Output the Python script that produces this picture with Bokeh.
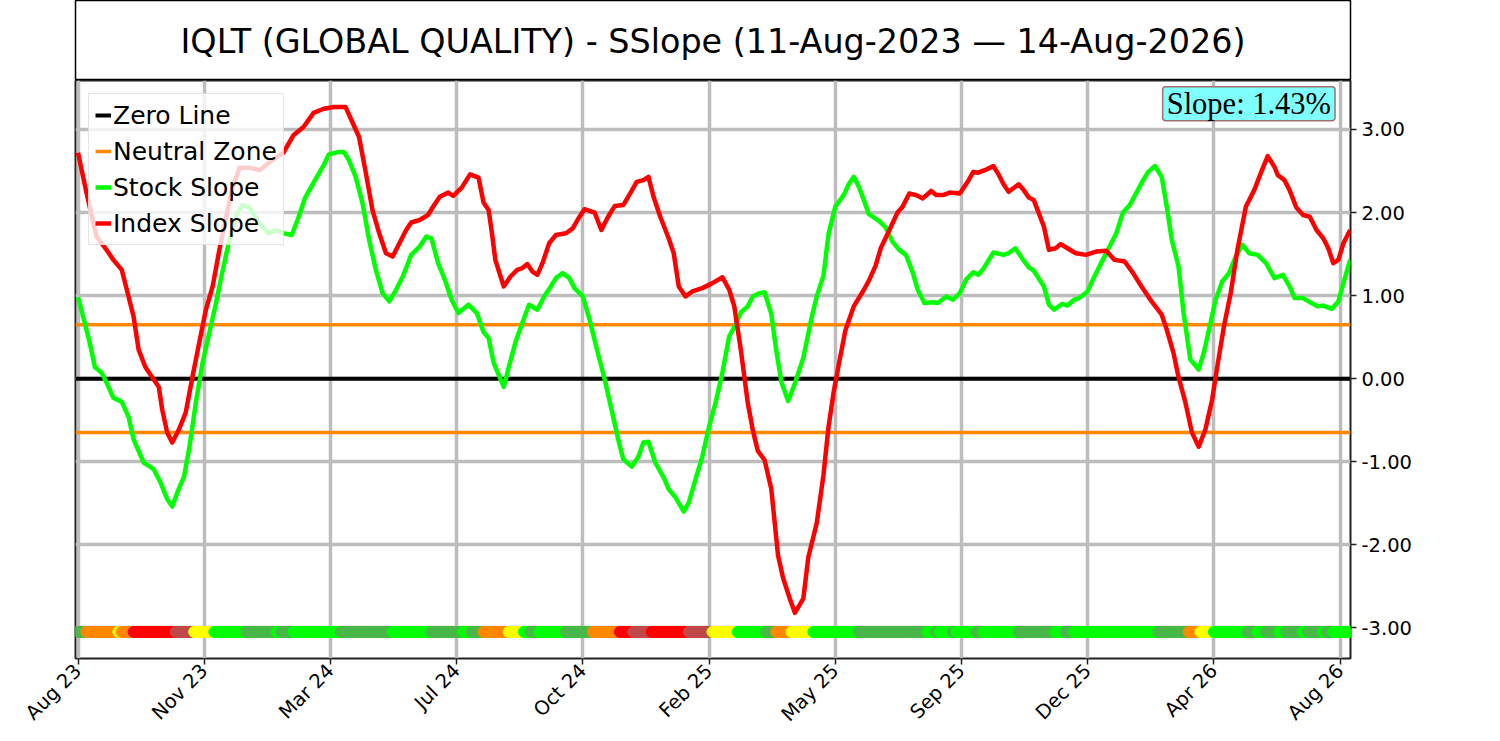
import math
from bokeh.plotting import figure
from bokeh.models import (Range1d, FixedTicker, NumeralTickFormatter, Legend,
                          LegendItem, Label, ColumnDataSource)
from bokeh.layouts import column
from bokeh.embed import file_html
from bokeh.resources import INLINE

# ---------------- data ----------------
TITLE = "IQLT (GLOBAL QUALITY) - SSlope (11-Aug-2023 \u2014 14-Aug-2026)"
N_DAYS = 757
XTICK_POS = [0, 75, 150, 225, 300, 375, 450, 525, 600, 675, 750]
XTICK_LABELS = ["Aug 23", "Nov 23", "Mar 24", "Jul 24", "Oct 24", "Feb 25",
                "May 25", "Sep 25", "Dec 25", "Apr 26", "Aug 26"]
YTICKS = [-3, -2, -1, 0, 1, 2, 3]
NEUTRAL = 0.65
BAND_LEVEL = -3.05

STOCK_X = [0, 4, 7, 10, 14, 17, 21, 26, 30, 33, 39, 45, 49, 53, 56, 59, 63, 66, 70, 74,
           78, 82, 86, 90, 94, 98, 102, 107, 113, 118, 122, 127, 131, 135, 140, 146, 149,
           155, 158, 161, 165, 169, 173, 177, 181, 185, 189, 193, 198, 203, 207, 210, 214,
           218, 222, 226, 232, 237, 241, 244, 247, 253, 256, 260, 264, 268, 273, 277, 281,
           284, 288, 292, 295, 300, 304, 308, 313, 317, 321, 324, 329, 333, 336, 339, 343,
           348, 351, 355, 360, 363, 367, 371, 375, 379, 383, 387, 390, 394, 398, 401, 405,
           408, 412, 415, 418, 422, 426, 431, 436, 439, 443, 446, 450, 455, 458, 461, 464,
           467, 470, 476, 480, 484, 488, 492, 496, 499, 503, 508, 511, 516, 520, 524, 528,
           532, 535, 538, 544, 550, 553, 557, 562, 565, 568, 574, 577, 580, 585, 588, 592,
           595, 600, 604, 609, 614, 617, 621, 625, 629, 633, 636, 640, 644, 647, 650, 654,
           657, 661, 666, 669, 673, 676, 680, 684, 688, 692, 696, 701, 706, 711, 716, 720,
           723, 728, 733, 737, 740, 745, 749, 752, 756]
STOCK_Y = [0.98, 0.67, 0.43, 0.14, 0.07, -0.05, -0.23, -0.28, -0.46, -0.73, -1.01, -1.09,
           -1.25, -1.45, -1.54, -1.37, -1.18, -0.85, -0.29, 0.19, 0.55, 0.91, 1.31, 1.67,
           1.97, 2.09, 2.06, 1.89, 1.75, 1.79, 1.75, 1.73, 1.94, 2.18, 2.36, 2.57, 2.70,
           2.73, 2.73, 2.63, 2.43, 2.12, 1.67, 1.31, 1.03, 0.93, 1.07, 1.23, 1.49, 1.59,
           1.71, 1.69, 1.39, 1.19, 0.95, 0.79, 0.89, 0.79, 0.56, 0.49, 0.19, -0.10, 0.14,
           0.44, 0.67, 0.89, 0.83, 0.99, 1.11, 1.21, 1.27, 1.21, 1.09, 0.99, 0.71, 0.38,
           -0.01, -0.37, -0.73, -0.97, -1.06, -0.94, -0.77, -0.76, -1.01, -1.19, -1.33,
           -1.43, -1.60, -1.49, -1.21, -0.94, -0.58, -0.28, 0.08, 0.51, 0.62, 0.80, 0.87,
           0.99, 1.03, 1.04, 0.78, 0.33, -0.04, -0.27, -0.06, 0.25, 0.74, 0.99, 1.24, 1.74,
           2.07, 2.21, 2.34, 2.43, 2.31, 2.15, 1.98, 1.90, 1.82, 1.65, 1.55, 1.49, 1.28,
           1.07, 0.91, 0.92, 0.91, 0.99, 0.95, 1.03, 1.20, 1.28, 1.25, 1.32, 1.52, 1.49,
           1.51, 1.57, 1.42, 1.34, 1.30, 1.11, 0.89, 0.83, 0.90, 0.88, 0.95, 0.97, 1.05,
           1.23, 1.43, 1.63, 1.75, 2.00, 2.09, 2.24, 2.39, 2.49, 2.56, 2.43, 2.07, 1.67,
           1.35, 0.79, 0.23, 0.11, 0.31, 0.67, 0.95, 1.17, 1.27, 1.47, 1.61, 1.51, 1.49,
           1.39, 1.21, 1.25, 1.11, 0.97, 0.97, 0.91, 0.87, 0.88, 0.84, 0.93, 1.15, 1.43]

INDEX_X = [0, 5, 11, 17, 21, 26, 29, 33, 36, 40, 45, 48, 50, 53, 56, 60, 64, 68, 72, 76,
           80, 84, 88, 92, 96, 102, 108, 114, 122, 128, 134, 140, 146, 152, 159, 163, 167,
           171, 175, 179, 183, 187, 191, 195, 198, 203, 208, 211, 215, 220, 223, 228, 233,
           238, 241, 244, 246, 248, 253, 257, 261, 264, 267, 270, 273, 276, 280, 284, 290,
           294, 298, 301, 307, 311, 315, 319, 324, 327, 332, 336, 339, 342, 346, 351, 354,
           357, 361, 365, 371, 377, 383, 387, 390, 394, 398, 401, 404, 408, 412, 416, 419,
           423, 426, 431, 434, 439, 443, 446, 449, 452, 456, 461, 467, 470, 474, 477, 482,
           487, 490, 494, 498, 502, 507, 510, 514, 518, 524, 529, 532, 535, 540, 544, 547,
           550, 553, 559, 562, 565, 568, 574, 577, 581, 584, 588, 593, 599, 605, 611, 616,
           622, 627, 632, 638, 644, 647, 651, 654, 658, 662, 666, 670, 674, 677, 681, 685,
           689, 694, 699, 703, 707, 711, 713, 717, 720, 724, 728, 732, 736, 740, 743, 746,
           749, 752, 756]
INDEX_Y = [2.72, 2.24, 1.71, 1.55, 1.43, 1.31, 1.07, 0.75, 0.35, 0.14, -0.01, -0.10, -0.37,
           -0.65, -0.77, -0.61, -0.41, 0.02, 0.43, 0.83, 1.11, 1.55, 1.95, 2.31, 2.54, 2.54,
           2.51, 2.61, 2.72, 2.93, 3.03, 3.20, 3.25, 3.27, 3.27, 3.09, 2.91, 2.48, 2.03,
           1.75, 1.51, 1.47, 1.63, 1.79, 1.88, 1.91, 1.97, 2.07, 2.19, 2.24, 2.20, 2.30,
           2.46, 2.42, 2.12, 2.03, 1.75, 1.43, 1.11, 1.23, 1.31, 1.33, 1.38, 1.29, 1.25,
           1.39, 1.63, 1.73, 1.75, 1.81, 1.95, 2.04, 2.00, 1.79, 1.95, 2.08, 2.09, 2.19,
           2.37, 2.39, 2.43, 2.19, 1.95, 1.69, 1.51, 1.11, 0.99, 1.05, 1.09, 1.15, 1.22,
           1.07, 0.87, 0.33, -0.29, -0.62, -0.87, -0.98, -1.33, -2.13, -2.40, -2.65, -2.82,
           -2.65, -2.15, -1.74, -1.16, -0.58, -0.17, 0.16, 0.58, 0.87, 1.07, 1.18, 1.36,
           1.57, 1.78, 2.00, 2.07, 2.23, 2.21, 2.17, 2.26, 2.21, 2.21, 2.24, 2.23, 2.38,
           2.49, 2.48, 2.52, 2.56, 2.46, 2.34, 2.25, 2.34, 2.27, 2.18, 2.15, 1.83, 1.55,
           1.57, 1.62, 1.57, 1.51, 1.49, 1.53, 1.54, 1.43, 1.41, 1.27, 1.11, 0.93, 0.77,
           0.59, 0.31, 0.02, -0.28, -0.65, -0.82, -0.61, -0.25, 0.14, 0.63, 1.03, 1.55,
           2.07, 2.27, 2.48, 2.68, 2.55, 2.45, 2.39, 2.27, 2.06, 1.97, 1.95, 1.79, 1.69,
           1.57, 1.39, 1.43, 1.63, 1.79]

# state band: (first day index of run, state)
BAND_RUNS = [(0, 'D'), (5, 'O'), (24, 'Y'), (26, 'O'), (33, 'R'), (58, 'B'), (69, 'Y'),
             (81, 'G'), (100, 'D'), (118, 'G'), (121, 'D'), (128, 'G'), (156, 'D'),
             (187, 'G'), (210, 'D'), (229, 'G'), (234, 'D'), (241, 'O'), (256, 'Y'),
             (265, 'G'), (269, 'D'), (274, 'G'), (290, 'D'), (306, 'O'), (322, 'R'),
             (330, 'B'), (341, 'R'), (363, 'B'), (377, 'Y'), (392, 'G'), (409, 'D'),
             (415, 'O'), (424, 'Y'), (437, 'G'), (464, 'D'), (505, 'G'), (510, 'D'),
             (512, 'G'), (520, 'D'), (522, 'G'), (534, 'D'), (538, 'G'), (559, 'D'),
             (581, 'G'), (587, 'D'), (592, 'G'), (642, 'D'), (660, 'O'), (667, 'Y'),
             (675, 'G'), (695, 'D'), (701, 'G'), (706, 'D'), (714, 'G'), (718, 'D'),
             (728, 'G'), (731, 'D'), (740, 'G'), (742, 'D'), (746, 'G')]
STATE_COLORS = {'G': '#00ff00', 'D': '#48b848', 'O': '#ff8800', 'Y': '#ffff00',
                'R': '#ff0000', 'B': '#c04848'}

SLOPE_TEXT = "Slope: %.2f%%" % STOCK_Y[-1]

# ---------------- layout constants ----------------
W = 1490
BL, BR = 75, 140
FONT = "DejaVu Sans"
X0, X1 = -1.5, 756.2
Y0, Y1 = -3.37, 3.59

# ---------------- title box ----------------
tf = figure(width=W, height=80, x_range=Range1d(0, 1), y_range=Range1d(0, 1),
            toolbar_location=None, output_backend="svg",
            min_border_left=BL, min_border_right=BR, min_border_top=0, min_border_bottom=0,
            x_axis_location=None, y_axis_location=None)
tf.grid.visible = False
tf.outline_line_color = "black"
tf.outline_line_width = 1.5
tf.add_layout(Label(x=0.5, y=0.49, text=TITLE, text_align="center", text_baseline="middle",
                    text_font=FONT, text_font_size="33.4px", text_color="black"))

# ---------------- main chart ----------------
p = figure(width=W, height=661, x_range=Range1d(X0, X1), y_range=Range1d(Y0, Y1),
           y_axis_location="right", toolbar_location=None, output_backend="svg",
           min_border_left=BL, min_border_right=BR, min_border_top=0, min_border_bottom=83)

xt = FixedTicker(ticks=XTICK_POS)
yt = FixedTicker(ticks=YTICKS)
p.xaxis.ticker = xt
p.xgrid.ticker = xt
p.yaxis.ticker = yt
p.ygrid.ticker = yt
p.xaxis.major_label_overrides = {pos: lab for pos, lab in zip(XTICK_POS, XTICK_LABELS)}
p.xaxis.major_label_orientation = math.pi / 4
p.yaxis.formatter = NumeralTickFormatter(format="0.00")
for ax in (p.xaxis, p.yaxis):
    ax.major_label_text_font = FONT
    ax.major_label_text_font_size = "19.5px"
    ax.major_label_text_color = "black"
    ax.major_tick_out = 6
    ax.major_tick_in = 0
    ax.major_tick_line_width = 1.5
    ax.major_tick_line_color = "#222222"
    ax.minor_tick_line_color = None
    ax.axis_line_color = None
p.xaxis.major_label_standoff = 3
p.outline_line_color = "#222222"
p.outline_line_width = 2
p.outline_line_alpha = 1
for g in (p.xgrid, p.ygrid):
    g.grid_line_color = "#bdbdbd"
    g.grid_line_width = 3.5

nan = float("nan")
r_zero = p.line([X0, X1], [0, 0], line_color="black", line_width=4)
r_neut = p.line([X0, X1, nan, X0, X1], [NEUTRAL, NEUTRAL, nan, -NEUTRAL, -NEUTRAL],
                line_color="#ff8800", line_width=3.5)
r_stock = p.line(STOCK_X, STOCK_Y, line_color="#00ff00", line_width=4.5, line_join="round")
r_index = p.line(INDEX_X, INDEX_Y, line_color="#ff0000", line_width=4.5, line_join="round")

# band of state dots
states = []
k = 0
for d in range(N_DAYS):
    while k + 1 < len(BAND_RUNS) and BAND_RUNS[k + 1][0] <= d:
        k += 1
    states.append(BAND_RUNS[k][1])
band = ColumnDataSource(dict(x=list(range(N_DAYS)), y=[BAND_LEVEL] * N_DAYS,
                             c=[STATE_COLORS[s] for s in states]))
p.scatter("x", "y", source=band, size=11, fill_color="c", line_color="c", marker="circle")

legend = Legend(items=[LegendItem(label="Zero Line", renderers=[r_zero]),
                       LegendItem(label="Neutral Zone", renderers=[r_neut]),
                       LegendItem(label="Stock Slope", renderers=[r_stock]),
                       LegendItem(label="Index Slope", renderers=[r_index])],
                location="top_left", margin=13, padding=6, spacing=6,
                glyph_width=16, glyph_height=30, label_height=30, label_standoff=2,
                label_text_font=FONT, label_text_font_size="25px", label_text_color="black",
                background_fill_color="white", background_fill_alpha=0.8,
                border_line_color="#cccccc", border_line_width=1.5)
p.add_layout(legend)

p.add_layout(Label(x=747, y=3.31, text=SLOPE_TEXT, text_align="right",
                   text_baseline="middle", text_font="Liberation Serif",
                   text_font_size="30.5px", text_color="black",
                   background_fill_color="#80ffff", background_fill_alpha=1,
                   border_line_color="#a07070", border_line_width=1.5,
                   padding=(4, 0), border_radius=3))

layout = column(tf, p)
open("out.html", "w").write(file_html(layout, INLINE))
